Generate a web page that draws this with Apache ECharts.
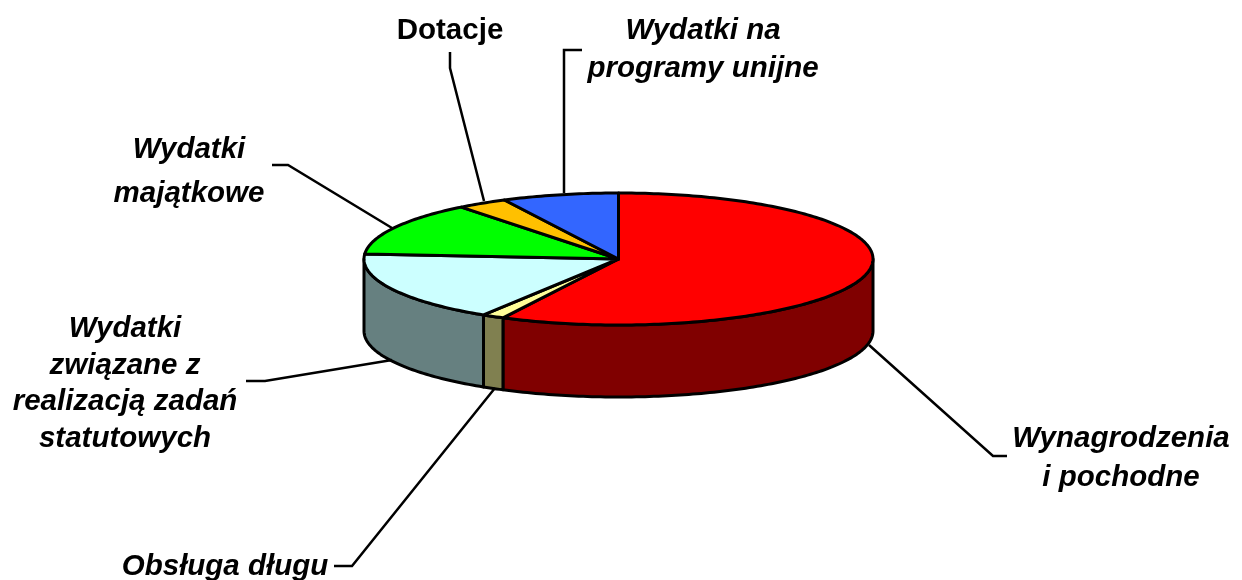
<!DOCTYPE html>
<html><head><meta charset="utf-8">
<style>html,body{margin:0;padding:0;background:#fff}#c{width:1242px;height:580px}</style>
<script src="https://cdn.jsdelivr.net/npm/echarts@6/dist/echarts.min.js"></script>
</head><body><div id="c"></div>
<script>
// Data, clockwise from the top of the pie
const categories = ['Wynagrodzenia\ni pochodne','Obsługa długu','Wydatki\nzwiązane z\nrealizacją zadań\nstatutowych','Wydatki\nmajątkowe','Dotacje','Wydatki na\nprogramy unijne'];
const shares = [57.5, 1.4, 17.3, 13.2, 3.2, 7.4];

// Styles and layout
const topColors  = ['#FF0000','#FFFF99','#CCFFFF','#00FF00','#FFC000','#3366FF'];
const sideColors = ['#800000','#808050','#668080','#008000','#806000','#1A3380'];
const labelAnchors = [[1121,458],[225,567],[125,384],[189,172],[450,31],[703,50]];
const labelHeights = [39,37,36.7,44,37,38];
const labelItalic = [true,true,true,true,false,true];
const leaders = [
  [[869,345],[993,456],[1007,456]],
  [[495,388],[352,566],[334,566]],
  [[392,360],[265,381],[246,381]],
  [[392,228],[288,165],[272,165]],
  [[484,201],[450,68],[450,52]],
  [[564,193],[564,50],[582,50]]
];
const PIE = {cx:618.5, cy:259, rx:254.5, ry:66, depth:72};

const total = shares.reduce((a,b)=>a+b,0);
function bounds(i){
  let s=0; for(let k=0;k<i;k++) s+=shares[k];
  return [s/total*360,(s+shares[i])/total*360];
}
function pt(deg,dy){
  const r=deg*Math.PI/180;
  return [PIE.cx+PIE.rx*Math.sin(r), PIE.cy-PIE.ry*Math.cos(r)+(dy||0)];
}
function arc(a,b,dy){
  const out=[], n=Math.max(2,Math.ceil(Math.abs(b-a)));
  for(let j=0;j<=n;j++) out.push(pt(a+(b-a)*j/n,dy));
  return out;
}
const line={stroke:'#000',lineWidth:3,lineJoin:'round'};

const seriesData = shares.map((v,i)=>({name:categories[i],value:v}));
const option={
  animation:false,
  backgroundColor:'#fff',
  tooltip:{show:false},
  series:[
    {type:'custom',coordinateSystem:'none',silent:true,data:seriesData,
     renderItem(p){
       const [a,b]=bounds(p.dataIndex);
       const s=Math.max(a,90), e=Math.min(b,270);
       if(e<=s) return {type:'group',children:[]};
       const pts=arc(s,e,0).concat(arc(e,s,PIE.depth));
       return {type:'polygon',shape:{points:pts},style:Object.assign({fill:sideColors[p.dataIndex]},line)};
     }},
    {type:'custom',coordinateSystem:'none',silent:true,data:seriesData,
     renderItem(p){
       const [a,b]=bounds(p.dataIndex);
       const pts=[[PIE.cx,PIE.cy]].concat(arc(a,b,0));
       return {type:'polygon',shape:{points:pts},style:Object.assign({fill:topColors[p.dataIndex]},line)};
     }},
    {type:'custom',coordinateSystem:'none',silent:true,data:seriesData,
     renderItem(p){
       const i=p.dataIndex;
       return {type:'group',children:[
         {type:'polyline',shape:{points:leaders[i]},style:{fill:null,stroke:'#000',lineWidth:2.5}},
         {type:'text',x:labelAnchors[i][0],y:labelAnchors[i][1],style:{
           text:categories[i],align:'center',verticalAlign:'middle',
           font:(labelItalic[i]?'italic ':'')+'bold 29.5px "Liberation Sans",Arial,sans-serif',
           lineHeight:labelHeights[i],fill:'#000'}}
       ]};
     }}
  ]
};
echarts.init(document.getElementById('c'),null,{renderer:'canvas'}).setOption(option);
</script></body></html>
